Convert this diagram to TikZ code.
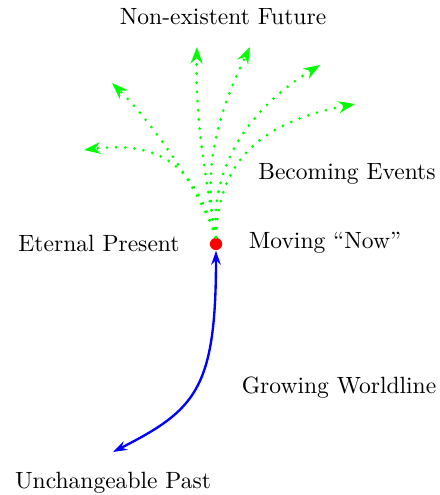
\documentclass[tikz,border=0pt]{standalone}
\usepackage{amsmath,amssymb}
\usepackage{tikz}
\usetikzlibrary{arrows.meta}

\begin{document}
\begin{tikzpicture}[x=0.425pt,y=-0.425pt,
    future/.style={green,line width=1.3pt,line cap=round,dash pattern=on 0pt off 3.9pt,
      -{Stealth[length=7pt,width=5pt,line cap=butt]}},
    label/.style={font=\normalsize}]
  \useasboundingbox (0,0) rectangle (439,495);

  % present moment
  \node[circle,fill=red,inner sep=0pt,minimum size=5.2pt] (now) at (216,244) {};
  \node[label] (present) at (99,243) {Eternal Present};
  \node[label] (moving) at (325,243) {Moving ``Now''};

  % worldline from the past
  \coordinate (past) at (113,452);
  \draw[blue,line width=1pt,{Stealth[length=6pt,width=4pt]}-{Stealth[length=6pt,width=4pt]}]
    (past) .. controls (195,410) and (216,390) .. (now.south);
  \node[label] (pastlbl) at (113,483) {Unchangeable Past};
  \node[label] (grow) at (339,388) {Growing Worldline};

  % branching futures
  \coordinate (f1) at (84,150);
  \coordinate (f2) at (112,83);
  \coordinate (f3) at (197,47);
  \coordinate (f4) at (250,47);
  \coordinate (f5) at (320,65);
  \coordinate (f6) at (355,104);
  \draw[future] (now.north) .. controls (195,170) and (165,140) .. (f1);
  \draw[future] (now.north) .. controls (200,190) and (150,120) .. (f2);
  \draw[future] (now.north) .. controls (205,175) and (195,115) .. (f3);
  \draw[future] (now.north) .. controls (200,165) and (222,105) .. (f4);
  \draw[future] (now.north) .. controls (210,165) and (250,108) .. (f5);
  \draw[future] (now.north) .. controls (218,160) and (262,122) .. (f6);
  \node[label] (futlbl) at (223,17) {Non-existent Future};
  \node[label] (becoming) at (347,174) {Becoming Events};
\end{tikzpicture}
\end{document}
